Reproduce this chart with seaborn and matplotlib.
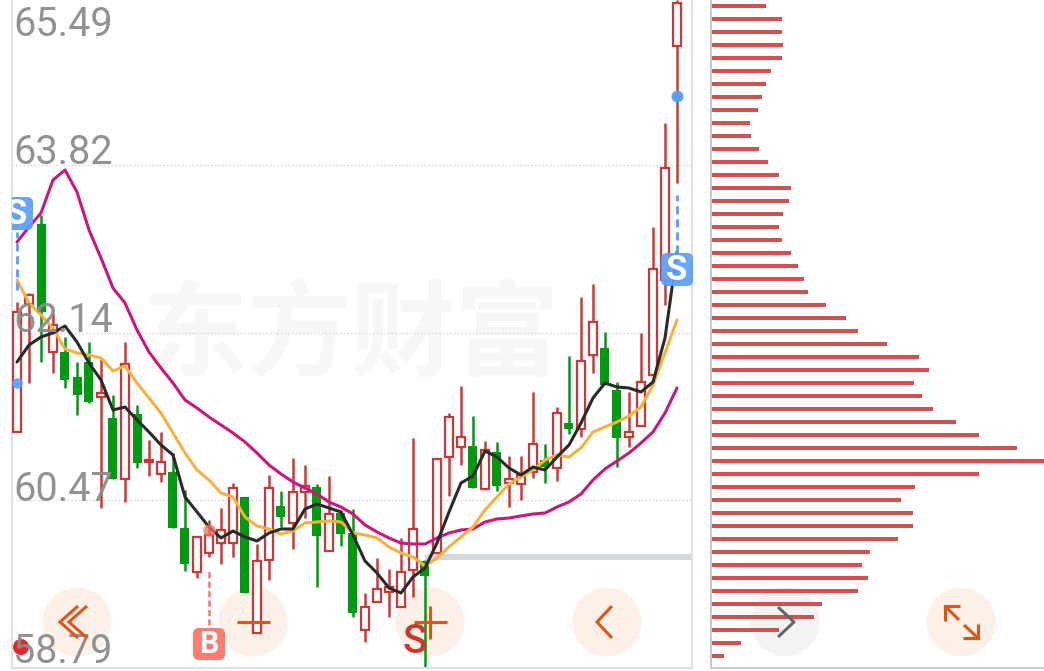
"""Candlestick chart with moving averages and a price-volume profile."""

import matplotlib
import matplotlib.pyplot as plt
import numpy as np
import seaborn as sns
from matplotlib.patches import Circle, FancyBboxPatch

matplotlib.use("Agg")

# ---------------------------------------------------------------------------
# Data
# ---------------------------------------------------------------------------

rising = [1, 1, 0, 1, 0, 0, 0, 1, 0, 1,
          0, 1, 1, 0, 0, 1, 1, 1, 1, 0,
          1, 1, 0, 1, 1, 0, 1, 0, 0, 1,
          1, 1, 1, 1, 0, 1, 1, 1, 0, 1,
          0, 1, 1, 1, 0, 1, 0, 1, 1, 0,
          0, 1, 1, 1, 1, 1]
high = [62.45, 62.54, 63.32, 62.34, 62.10, 61.85, 62.05, 61.90, 61.52, 62.05,
        61.42, 61.07, 61.15, 60.94, 60.57, 60.10, 60.27, 60.39, 60.64, 60.50,
        60.03, 60.72, 60.56, 60.89, 60.82, 60.63, 60.71, 60.37, 60.38, 59.54,
        59.89, 59.78, 60.09, 61.09, 59.87, 60.88, 61.34, 61.61, 61.31, 61.06,
        61.05, 60.91, 60.91, 61.55, 61.03, 61.40, 61.91, 62.50, 62.63, 62.15,
        61.65, 61.55, 62.14, 63.20, 64.24, 65.47]
body_top = [62.35, 62.52, 63.23, 62.22, 61.95, 61.70, 61.85, 61.54, 61.29, 61.83,
            61.33, 60.87, 60.85, 60.75, 60.19, 60.10, 60.12, 60.17, 60.59, 60.50,
            59.86, 60.59, 60.41, 60.55, 60.61, 60.60, 60.33, 60.34, 60.14, 59.40,
            59.58, 59.60, 59.75, 60.18, 59.86, 60.88, 61.30, 61.10, 61.01, 60.97,
            60.95, 60.68, 60.72, 61.03, 60.87, 61.34, 61.24, 61.86, 62.25, 61.99,
            61.57, 61.15, 61.65, 62.78, 63.79, 65.44]
body_bottom = [61.15, 62.43, 62.35, 61.95, 61.67, 61.52, 61.45, 61.50, 60.68, 60.68,
               60.84, 60.85, 60.73, 60.19, 59.83, 59.75, 59.94, 60.04, 60.04, 59.54,
               59.14, 59.87, 60.30, 60.24, 60.55, 60.11, 59.96, 60.13, 59.34, 59.17,
               59.45, 59.55, 59.40, 59.77, 59.71, 59.94, 60.90, 61.00, 60.59, 60.58,
               60.61, 60.64, 60.63, 60.75, 60.80, 60.79, 61.18, 61.18, 61.92, 61.62,
               61.09, 61.10, 61.21, 61.72, 62.67, 65.01]
low = [61.15, 61.64, 61.85, 61.74, 61.59, 61.32, 61.44, 60.39, 60.68, 60.45,
       60.79, 60.71, 60.65, 60.19, 59.76, 59.69, 59.90, 59.83, 59.90, 59.54,
       59.14, 59.67, 60.20, 59.98, 60.29, 59.60, 59.96, 60.01, 59.30, 59.05,
       59.45, 59.30, 59.40, 59.50, 58.79, 59.94, 60.51, 60.82, 60.59, 60.57,
       60.56, 60.40, 60.47, 60.69, 60.64, 60.66, 61.13, 61.10, 61.74, 61.62,
       60.80, 61.00, 61.21, 61.72, 62.42, 63.64]

ma5 = [61.85, 62.02, 62.10, 62.14, 62.21, 62.05, 61.84, 61.67, 61.37, 61.40,
       61.27, 61.15, 61.02, 60.92, 60.50, 60.35, 60.20, 60.09, 60.16, 60.10,
       60.06, 60.14, 60.18, 60.18, 60.38, 60.43, 60.39, 60.35, 60.12, 59.86,
       59.74, 59.59, 59.54, 59.70, 59.79, 60.04, 60.35, 60.64, 60.71, 60.96,
       60.90, 60.79, 60.72, 60.80, 60.77, 60.90, 61.02, 61.24, 61.49, 61.64,
       61.60, 61.59, 61.55, 61.65, 62.09, 62.95]
ma10 = [62.67, 62.44, 62.32, 62.19, 61.98, 61.94, 61.92, 61.89, 61.76, 61.81,
        61.64, 61.49, 61.34, 61.14, 60.94, 60.77, 60.67, 60.54, 60.50, 60.30,
        60.21, 60.18, 60.13, 60.16, 60.24, 60.25, 60.26, 60.25, 60.14, 60.12,
        60.09, 60.00, 59.94, 59.90, 59.81, 59.89, 60.00, 60.10, 60.20, 60.37,
        60.50, 60.63, 60.70, 60.77, 60.87, 60.92, 60.90, 60.99, 61.15, 61.20,
        61.25, 61.31, 61.40, 61.62, 61.94, 62.27]
ma20 = [63.05, 63.20, 63.34, 63.67, 63.77, 63.55, 63.17, 62.89, 62.59, 62.44,
        62.17, 61.95, 61.79, 61.64, 61.47, 61.39, 61.30, 61.22, 61.14, 61.05,
        60.94, 60.82, 60.73, 60.65, 60.59, 60.53, 60.45, 60.40, 60.33, 60.22,
        60.15, 60.09, 60.04, 60.03, 60.03, 60.09, 60.14, 60.17, 60.18, 60.25,
        60.28, 60.29, 60.31, 60.33, 60.34, 60.40, 60.45, 60.53, 60.67, 60.78,
        60.86, 60.94, 61.04, 61.15, 61.34, 61.59]

profile_price = [65.41, 65.28, 65.15, 65.02, 64.89, 64.76, 64.63, 64.50, 64.37,
                 64.24, 64.11, 63.98, 63.85, 63.72, 63.59, 63.46, 63.33, 63.20,
                 63.07, 62.94, 62.81, 62.68, 62.55, 62.42, 62.29, 62.16, 62.03,
                 61.90, 61.77, 61.64, 61.51, 61.38, 61.25, 61.12, 60.99, 60.86,
                 60.73, 60.60, 60.47, 60.34, 60.21, 60.08, 59.95, 59.82, 59.69,
                 59.56, 59.43, 59.30, 59.17, 59.04, 58.91]
profile_volume = [55, 71, 71, 72, 71, 60, 55, 51, 47, 39, 40, 48, 57, 68, 80, 78, 72,
                  68, 71, 80, 87, 93, 97, 115, 135, 147, 176, 208, 218, 203, 211,
                  222, 245, 268, 306, 333, 268, 204, 190, 202, 202, 187, 159, 151,
                  157, 147, 111, 103, 68, 30, 13]

price_labels = ["65.49", "63.82", "62.14", "60.47", "58.79"]
label_prices = [65.03, 63.75, 62.07, 60.38, 58.76]
grid_prices = [63.82, 62.14, 60.47]
support_price = 59.90

# ---------------------------------------------------------------------------
# Constants
# ---------------------------------------------------------------------------

RED = "#c83a3a"
GREEN = "#009a10"
BLUE = "#5b9ef9"
ORANGE_ICON = "#d9571a"
GREY_TEXT = "#8c8c8c"

sns.set_theme(style="white")
plt.rcParams["font.family"] = ["Roboto", "Noto Sans CJK SC", "DejaVu Sans"]

fig = plt.figure(figsize=(10.44, 6.71), dpi=100, facecolor="white")


def pixel_axes(zorder):
    """Full-figure axes in image pixels, for the app's buttons and badges."""
    pax = fig.add_axes([0, 0, 1, 1], zorder=zorder)
    pax.set_xlim(0, 1044)
    pax.set_ylim(671, 0)
    pax.axis("off")
    return pax


under = pixel_axes(0)
over = pixel_axes(3)

ax = fig.add_axes([12 / 1044, 3 / 671, 680 / 1044, 668 / 671], zorder=1)
profile = fig.add_axes([711 / 1044, 3 / 671, 333 / 1044, 668 / 671], zorder=2)
ax.patch.set_visible(False)
profile.patch.set_visible(False)

# ---------------------------------------------------------------------------
# Background: watermark and round buttons
# ---------------------------------------------------------------------------

under.text(352, 337, "东方财富", fontsize=75, fontweight="bold", color="#f7f7f7",
           ha="center", va="center", family=["Noto Sans CJK SC", "DejaVu Sans"])
for cx in [77, 253, 430, 607, 961]:
    under.add_patch(Circle((cx, 622), 34.5, color="#fdf0e8", lw=0))
under.add_patch(Circle((785, 622), 34.5, color="#f3f3f3", lw=0))

# ---------------------------------------------------------------------------
# Candles
# ---------------------------------------------------------------------------

idx = np.arange(len(high))
up = np.array(rising, dtype=bool)
top = np.array(body_top)
bottom = np.array(body_bottom)

ax.grid(True, axis="y", linestyle=":", color="#d4d4d4", linewidth=1)
ax.grid(False, axis="x")
ax.set_axisbelow(True)
ax.hlines(support_price, 34, 56.25, color="#d5d8dc", linewidth=4.3, zorder=1)

colors = [RED if u else GREEN for u in up]
ax.vlines(idx, low, high, color=colors, linewidth=1.8, zorder=2)
ax.bar(idx[up], top[up] - bottom[up], bottom=bottom[up], width=0.66,
       facecolor="white", edgecolor=RED, linewidth=1.6, zorder=3)
ax.bar(idx[~up], top[~up] - bottom[~up], bottom=bottom[~up], width=0.75,
       color=GREEN, linewidth=0, zorder=3)

for values, color in [(ma20, "#c8187f"), (ma10, "#f6b23e"), (ma5, "#2a2a2a")]:
    sns.lineplot(x=idx, y=values, ax=ax, color=color, linewidth=2.2, zorder=4,
                 errorbar=None, solid_joinstyle="round", solid_capstyle="round")

# Buy / sell signal leaders and dots
ax.vlines(0, 62.57, 63.15, color=BLUE, linewidth=2, linestyle=(0, (2.9, 1.8)), zorder=5)
ax.vlines(55, 62.94, 63.52, color=BLUE, linewidth=2, linestyle=(0, (2.9, 1.8)), zorder=5)
ax.vlines(16, 59.22, 59.78, color="#f4847a", linewidth=2, linestyle=(0, (2.2, 1.2)), zorder=5)
ax.plot(0, 61.64, "o", color=BLUE, markersize=7.6, markeredgewidth=0, alpha=0.9, zorder=5)
ax.plot(55, 64.51, "o", color=BLUE, markersize=8.6, markeredgewidth=0, zorder=5)
ax.plot(16, 60.17, "o", color="#f87066", markersize=9, markeredgewidth=0, alpha=0.75, zorder=5)
# red marker that sits under the bottom price label
ax.add_patch(Circle((21, 647), 8, color="#e8242c", lw=0, transform=over.transData, zorder=7))

# Left "S" badge is cut by the plot edge, so it stays inside the main axes
ax.add_patch(FancyBboxPatch((1, 197), 32, 33, boxstyle="round,pad=0,rounding_size=6",
                            facecolor=BLUE, edgecolor="none", alpha=0.93,
                            transform=over.transData, zorder=6))
ax.text(17, 214, "S", transform=over.transData, color="white", fontsize=25, fontweight="bold",
        ha="center", va="center", clip_on=True, zorder=7)

ax.set_xlim(-5 / 12, 675 / 12)
ax.set_ylim(58.79, 65.47)
ax.set_yticks(grid_prices)
ax.set_xticks([])
ax.tick_params(axis="y", length=0, labelleft=False)
ax.set_xlabel("")
ax.set_ylabel("")
for side, spine in ax.spines.items():
    spine.set_visible(side != "top")
    spine.set_color("#e0e0e0")
    spine.set_linewidth(1.4)

for label, price in zip(price_labels, label_prices):
    ax.text(-0.33, price, label, color=GREY_TEXT, fontsize=28.5, ha="left", va="bottom",
            alpha=0.95, zorder=8)

# ---------------------------------------------------------------------------
# Volume profile
# ---------------------------------------------------------------------------

sns.barplot(x=profile_volume, y=profile_price, orient="y", native_scale=True, ax=profile,
            color="#d4504f", width=0.25, saturation=1, errorbar=None, linewidth=0)
profile.set_xlim(0, 333)
profile.set_ylim(58.79, 65.47)
profile.set_xticks([])
profile.set_yticks([])
profile.set_xlabel("")
profile.set_ylabel("")
for side, spine in profile.spines.items():
    spine.set_visible(side in ("left", "bottom"))
    spine.set_color("#c9c9c9")
    spine.set_linewidth(1.4)

# ---------------------------------------------------------------------------
# Foreground: badges and button icons
# ---------------------------------------------------------------------------

over.add_patch(FancyBboxPatch((661, 253), 32, 33, boxstyle="round,pad=0,rounding_size=6",
                              facecolor=BLUE, edgecolor="none", alpha=0.93))
over.text(677, 270, "S", color="white", fontsize=25, fontweight="bold", ha="center", va="center")
over.add_patch(FancyBboxPatch((193, 628), 32, 32, boxstyle="round,pad=0,rounding_size=6",
                              facecolor="#fb7d72", edgecolor="none"))
over.text(209, 644, "B", color="white", fontsize=22, fontweight="bold", ha="center", va="center")
over.text(415, 642, "S", color="#c9392e", fontsize=29, fontweight="medium", ha="center", va="center")

icon = dict(color=ORANGE_ICON, linewidth=2.2, solid_joinstyle="miter", solid_capstyle="butt")
over.plot([78, 60, 78], [606, 622, 638], **icon)
over.plot([87, 69, 87], [606, 622, 638], **icon)
over.plot([237, 270], [622, 622], **icon)
over.plot([414, 447], [622, 622], **icon)
over.plot([430, 430], [606, 639], **icon)
over.plot([612, 597, 612], [606, 622, 638], **icon)
over.plot([778, 794, 778], [607, 622, 637], color="#666666", linewidth=2.2, solid_capstyle="butt")
over.plot([960, 945, 945], [606, 606, 621], **icon)
over.plot([945, 959], [606, 620], **icon)
over.plot([963, 978, 978], [638, 638, 624], **icon)
over.plot([978, 964], [638, 625], **icon)
over.set_xlim(0, 1044)
over.set_ylim(671, 0)

fig.savefig("out.png", dpi=100)
